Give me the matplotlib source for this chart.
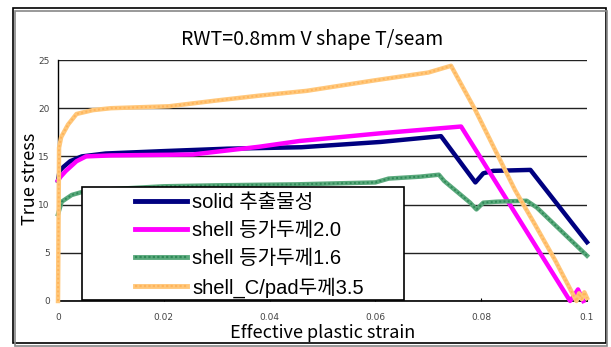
import matplotlib
matplotlib.use("Agg")
import matplotlib.pyplot as plt
from matplotlib.patches import Rectangle
from matplotlib.lines import Line2D
from matplotlib.legend_handler import HandlerTuple

plt.rcParams["font.family"] = ["Noto Sans CJK KR", "DejaVu Sans"]

# solid 추출물성
solid_x = [0, 0.0003, 0.001, 0.0023, 0.0045, 0.009, 0.02, 0.032, 0.046, 0.061, 0.0724,
           0.077, 0.0789, 0.0804, 0.0823, 0.0893, 0.1]
solid_y = [12.5, 13.5, 13.9, 14.5, 15.0, 15.3, 15.55, 15.8, 15.95, 16.5, 17.1,
           13.7, 12.3, 13.25, 13.5, 13.6, 6.1]

# shell 등가두께2.0
sh20_x = [0, 0.0005, 0.0015, 0.0035, 0.0053, 0.01, 0.0255, 0.038, 0.0457, 0.061, 0.0762,
          0.0968, 0.0976, 0.0983, 0.0993]
sh20_y = [12.5, 12.9, 13.5, 14.5, 15.0, 15.1, 15.2, 16.0, 16.6, 17.4, 18.1,
          0.0, 0.6, 1.2, 0.0]

# shell 등가두께1.6
sh16_x = [0, 0.0007, 0.0026, 0.0045, 0.01, 0.02, 0.03, 0.045, 0.06, 0.0625, 0.0685,
          0.072, 0.073, 0.0779, 0.0791, 0.0804, 0.0829, 0.0886, 0.0905, 0.1]
sh16_y = [9.0, 10.3, 11.0, 11.3, 11.6, 11.9, 12.0, 12.1, 12.3, 12.7, 12.9,
          13.1, 12.45, 10.2, 9.5, 10.2, 10.3, 10.4, 9.7, 4.7]

# shell_C/pad두께3.5
cpad_x = [0, 0.0002, 0.0006, 0.0019, 0.0035, 0.0066, 0.01, 0.021, 0.03, 0.038, 0.047,
          0.06, 0.07, 0.0743, 0.0788, 0.0826, 0.0864, 0.0902, 0.094, 0.098,
          0.0985, 0.099, 0.0995, 0.1]
cpad_y = [0, 15.9, 17.0, 18.3, 19.4, 19.8, 20.0, 20.2, 20.8, 21.3, 21.8,
          22.9, 23.7, 24.4, 19.9, 15.7, 11.5, 7.9, 4.2, 0.0,
          0.8, 0.2, 0.9, 0.3]

labels = ["solid 추출물성", "shell 등가두께2.0", "shell 등가두께1.6", "shell_C/pad두께3.5"]
colors = ["#000080", "#ff00ff", "#5aa97c", "#ffc77a"]
# stipple colours laid over the two textured series (None = plain line)
stipple = [None, None, "#2f8a58", "#ffb45a"]

W, H = 611, 347
fig = plt.figure(figsize=(W / 100, H / 100), dpi=100)
ax = fig.add_axes([58 / W, 1 - 301 / H, 529 / W, 241 / H])

series = [(solid_x, solid_y), (sh20_x, sh20_y), (sh16_x, sh16_y), (cpad_x, cpad_y)]
for (xs, ys), c, st in zip(series, colors, stipple):
    ax.plot(xs, ys, color=c, lw=3.2, solid_joinstyle="round", zorder=3, clip_on=False)
    if st:
        ax.plot(xs, ys, color=st, lw=1.4, ls=(0, (1, 1.2)), zorder=3, clip_on=False)

ax.set_xlim(0, 0.1)
ax.set_ylim(0, 25)
ax.set_xticks([0, 0.02, 0.04, 0.06, 0.08, 0.1])
ax.set_xticklabels(["0", "0.02", "0.04", "0.06", "0.08", "0.1"])
ax.set_yticks([0, 5, 10, 15, 20, 25])
for lab in ax.get_xticklabels() + ax.get_yticklabels():
    lab.set_family("DejaVu Sans")
ax.tick_params(axis="both", labelsize=6.5, labelcolor="#444444")
ax.tick_params(axis="x", direction="in", length=2, pad=9)
ax.tick_params(axis="y", length=0, pad=6)
ax.yaxis.grid(True, color="#222222", lw=1)
ax.set_axisbelow(True)
for s in ["top", "right"]:
    ax.spines[s].set_visible(False)
ax.spines["left"].set_linewidth(1)
ax.spines["bottom"].set_linewidth(1.2)

ax.set_xlabel("Effective plastic strain", fontsize=13, labelpad=1)
ax.set_ylabel("True stress", fontsize=13)
ax.yaxis.set_label_coords(-0.036, 0.505)
fig.text(312 / W, 1 - 39 / H, "RWT=0.8mm V shape T/seam", fontsize=14,
         ha="center", va="center")

# legend box drawn as a patch, entries placed inside it
bx0, bx1 = (82 - 58) / 529, (404 - 58) / 529
by0, by1 = (301 - 300) / 241, (301 - 187) / 241
ax.add_patch(Rectangle((bx0, by0), bx1 - bx0, by1 - by0, transform=ax.transAxes,
                       facecolor="white", edgecolor="black", lw=1.2, zorder=4))
handles = []
for c, st in zip(colors, stipple):
    base = Line2D([], [], color=c, lw=3.5)
    if st:
        handles.append((base, Line2D([], [], color=st, lw=1.6, ls=(0, (1, 1)))))
    else:
        handles.append(base)
leg = ax.legend(handles, labels, loc="center left", frameon=False,
                prop={"family": ["Liberation Sans", "Noto Sans CJK KR"], "size": 14.5},
                bbox_to_anchor=((131 - 58) / 529, (301 - 245.5) / 241),
                handler_map={tuple: HandlerTuple(ndivide=1, pad=0)},
                handlelength=2.6, handletextpad=0.25, labelspacing=0.44,
                borderpad=0.2, borderaxespad=0)
leg.set_zorder(5)

# outer chart border with shadow
fig.patches.append(Rectangle((15 / W, 1 - 346 / H), 592 / W, 335 / H,
                             transform=fig.transFigure, facecolor="none",
                             edgecolor="#888888", lw=1.2))
fig.patches.append(Rectangle((13 / W, 1 - 343 / H), 593 / W, 335 / H,
                             transform=fig.transFigure, facecolor="white",
                             edgecolor="black", lw=1.2, zorder=-1))

fig.savefig("out.png", dpi=100)
